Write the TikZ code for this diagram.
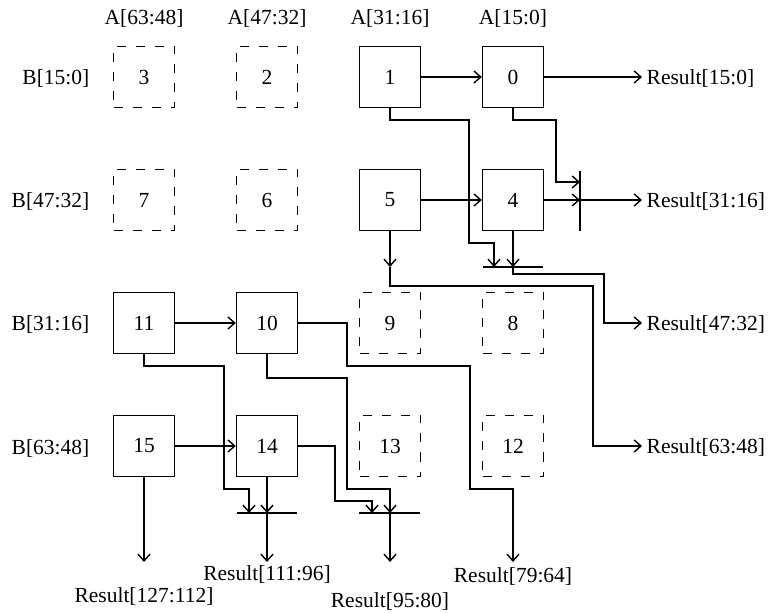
\documentclass[tikz,border=0pt]{standalone}
\usepackage{fontspec}
\setmainfont{Liberation Serif}
\usetikzlibrary{arrows.meta}
\begin{document}
\begin{tikzpicture}[x=0.5pt,y=-0.5pt, line width=0.7pt,
  every node/.style={font=\fontsize{10.75pt}{13pt}\selectfont},
  blk/.style={draw, minimum size=30.5pt, inner sep=0pt},
  ghost/.style={blk, dash pattern=on 4.5pt off 5pt},
  arr/.style={-{Straight Barb[length=3.4pt,width=6pt]}},
  rl/.style={anchor=west, inner xsep=2pt, inner ysep=0pt, text height=7.5pt, text depth=0pt},
  bl/.style={anchor=base, inner sep=0pt},
  ll/.style={anchor=base east, inner sep=0pt}]
\useasboundingbox (0,0) rectangle (769,613);

% column / row labels
\node[bl] (a3) at (144,25) {A[63:48]};
\node[bl] (a2) at (267,25) {A[47:32]};
\node[bl] (a1) at (390,25) {A[31:16]};
\node[bl] (a0) at (513,25) {A[15:0]};
\node[ll] (b0) at (90,85) {B[15:0]};
\node[ll] (b1) at (90,208) {B[47:32]};
\node[ll] (b2) at (90,331) {B[31:16]};
\node[ll] (b3) at (90,454) {B[63:48]};

% blocks
\node[ghost] (n3) at (144,77) {3};
\node[ghost] (n2) at (267,77) {2};
\node[blk] (n1) at (390,77) {1};
\node[blk] (n0) at (513,77) {0};
\node[ghost] (n7) at (144,200) {7};
\node[ghost] (n6) at (267,200) {6};
\node[blk] (n5) at (390,200) {5};
\node[blk] (n4) at (513,200) {4};
\node[blk] (n11) at (144,323) {11};
\node[blk] (n10) at (267,323) {10};
\node[ghost] (n9) at (390,323) {9};
\node[ghost] (n8) at (513,323) {8};
\node[blk] (n15) at (144,446) {15};
\node[blk] (n14) at (267,446) {14};
\node[ghost] (n13) at (390,446) {13};
\node[ghost] (n12) at (513,446) {12};

% result labels
\node[rl] (r0) at (642,77) {Result[15:0]};
\node[rl] (r1) at (642,200) {Result[31:16]};
\node[rl] (r2) at (642,323) {Result[47:32]};
\node[rl] (r3) at (642,446) {Result[63:48]};
\node[bl] (r79) at (513,582) {Result[79:64]};
\node[bl] (r95) at (390,607) {Result[95:80]};
\node[bl] (r111) at (267,580) {Result[111:96]};
\node[bl] (r127) at (144,602) {Result[127:112]};

% adder bars
\draw (483,267) -- (543,267);
\draw (580,171) -- (580,231);
\draw (237,513) -- (297,513);
\draw (359,513) -- (420,513);

% junction coordinates
\coordinate (v1) at (580,200);
\coordinate (v0) at (580,182);
\coordinate (j4) at (513,267);
\coordinate (j1) at (494,267);
\coordinate (j5) at (390,267);
\coordinate (j14a) at (249,513);
\coordinate (j14b) at (267,513);
\coordinate (j13a) at (372,513);
\coordinate (j13b) at (390,513);
\coordinate (e79) at (513,562);
\coordinate (e95) at (390,562);
\coordinate (e111) at (267,562);
\coordinate (e127) at (144,562);

% connectors, top half
\draw[arr] (n1.east) -- (n0.west);
\draw[arr] (n0.east) -- (r0);
\draw[arr] (n1.south) |- (469,120) |- (494,243) -- (j1);
\draw[arr] (n0.south) |- (556,120) |- (v0);
\draw[arr] (n5.east) -- (n4.west);
\draw[arr] (n4.east) -- (v1);
\draw[arr] (v1) -- (r1);
\draw[arr] (n4.south) -- (j4);
\draw[arr] (j4) |- (604,274) |- (r2);
\draw[arr] (n5.south) -- (j5);
\draw[arr] (j5) |- (593,286) |- (r3);

% connectors, bottom half
\draw[arr] (n11.east) -- (n10.west);
\draw[arr] (n15.east) -- (n14.west);
\draw[arr] (n10.east) -| (347,366) -| (470,489) -| (e79);
\draw[arr] (n10.south) |- (347,378) |- (390,489) -- (j13b);
\draw[arr] (n14.east) -| (335,501) -| (j13a);
\draw[arr] (n11.south) |- (224,366) |- (249,489) -- (j14a);
\draw[arr] (n14.south) -- (j14b);
\draw[arr] (j14b) -- (e111);
\draw[arr] (j13b) -- (e95);
\draw[arr] (n15.south) -- (e127);
\end{tikzpicture}
\end{document}
